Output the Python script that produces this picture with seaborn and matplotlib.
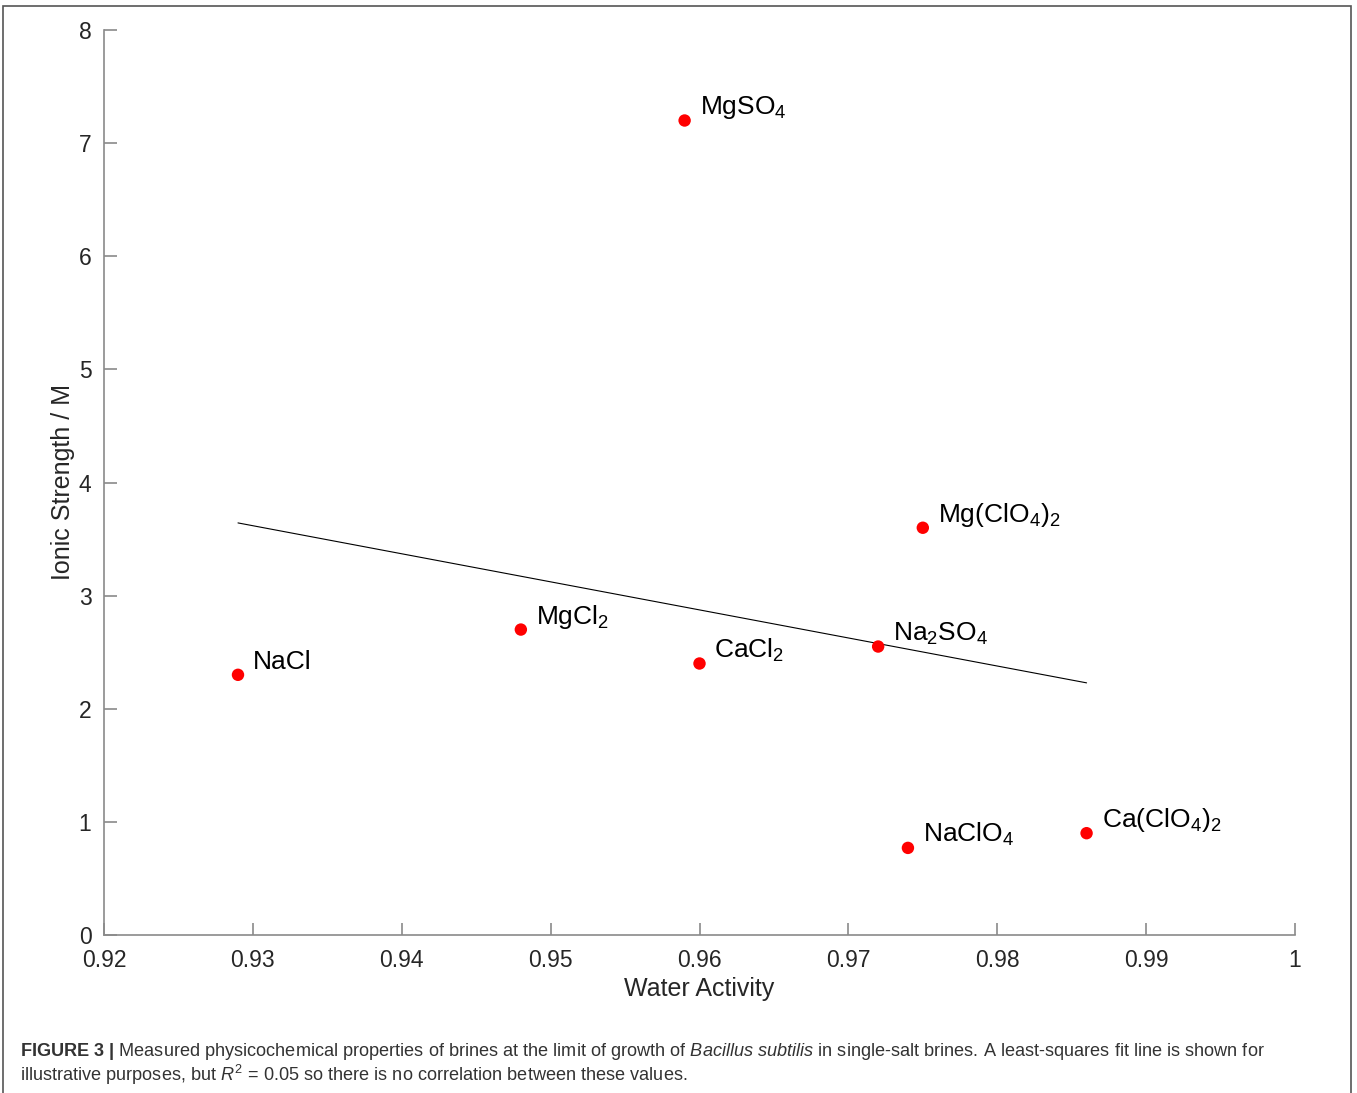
import numpy as np
import pandas as pd
import matplotlib
matplotlib.use("Agg")
from matplotlib import pyplot
from matplotlib.patches import Rectangle
import seaborn

# brine composition at the growth limit of B. subtilis
SALTS = ['NaCl', 'MgCl$_2$', 'CaCl$_2$', 'Na$_2$SO$_4$', 'MgSO$_4$',
         'Mg(ClO$_4$)$_2$', 'NaClO$_4$', 'Ca(ClO$_4$)$_2$']
WATER_ACTIVITY = [0.929, 0.948, 0.960, 0.972, 0.959, 0.975, 0.974, 0.986]
IONIC_STRENGTH = [2.30, 2.70, 2.40, 2.55, 7.20, 3.60, 0.77, 0.90]

X_TICKS = [0.92, 0.93, 0.94, 0.95, 0.96, 0.97, 0.98, 0.99, 1.0]
X_TICKLABELS = ['0.92', '0.93', '0.94', '0.95', '0.96', '0.97', '0.98', '0.99', '1']
Y_TICKS = [0, 1, 2, 3, 4, 5, 6, 7, 8]

df = pd.DataFrame({'Water Activity': WATER_ACTIVITY,
                   'Ionic Strength': IONIC_STRENGTH,
                   'Salt': SALTS})

seaborn.set_style("white")
pyplot.rcParams['font.family'] = ['Liberation Sans', 'DejaVu Sans']
pyplot.rcParams['mathtext.fontset'] = 'custom'
pyplot.rcParams['mathtext.rm'] = 'Liberation Sans'
pyplot.rcParams['mathtext.it'] = 'Liberation Sans:italic'
pyplot.rcParams['mathtext.bf'] = 'Liberation Sans:bold'

fig = pyplot.figure(figsize=(13.57, 10.93), dpi=100)
ax = fig.add_axes([104/1357, 1-935/1093, (1295-104)/1357, (935-30)/1093])

# least-squares line over the data range
seaborn.regplot(x='Water Activity', y='Ionic Strength', data=df, ax=ax,
                scatter=False, ci=None, truncate=True,
                line_kws={'color': 'black', 'lw': 0.8})
seaborn.scatterplot(x='Water Activity', y='Ionic Strength', data=df, ax=ax,
                    color='#ff0000', s=80, edgecolor='none', zorder=3)

for name, xv, yv in zip(SALTS, WATER_ACTIVITY, IONIC_STRENGTH):
    ax.annotate(name, (xv, yv), xytext=(15, 13), textcoords='offset pixels',
                ha='left', va='center', fontsize=19, color='black')

ax.set_xlim(0.92, 1.0)
ax.set_ylim(0, 8)
ax.set_xticks(X_TICKS)
ax.set_xticklabels(X_TICKLABELS)
ax.set_yticks(Y_TICKS)
seaborn.despine(ax=ax)
for side in ['left', 'bottom']:
    ax.spines[side].set_color('#8a8a8a')
    ax.spines[side].set_linewidth(1.2)
ax.tick_params(bottom=True, left=True, direction='in', length=9, width=1.2,
               color='#8a8a8a', labelsize=16.5, labelcolor='#262626')
ax.tick_params(axis='x', pad=10)
ax.tick_params(axis='y', pad=9)
ax.set_xlabel('Water Activity', fontsize=18, color='#262626', labelpad=4)
ax.set_ylabel('Ionic Strength / M', fontsize=18, color='#262626', labelpad=3)

fig.text(20/1357, 1-1056/1093,
         r'$\bf{FIGURE\ 3\ |}$ Measured physicochemical properties of brines at the limit of growth of '
         r'$\it{Bacillus\ subtilis}$ in single-salt brines. A least-squares fit line is shown for',
         fontsize=13.1, color='#333333', va='baseline')
fig.text(20/1357, 1-1081/1093,
         r'illustrative purposes, but $R^2$ = 0.05 so there is no correlation between these values.',
         fontsize=13.1, color='#333333', va='baseline')

fig.patches.append(Rectangle((3/1357, -0.01), (1351-3)/1357, 1.01-5.5/1093,
                             transform=fig.transFigure, fill=False,
                             edgecolor='#555555', lw=1.2))

fig.savefig('out.png', dpi=100)
